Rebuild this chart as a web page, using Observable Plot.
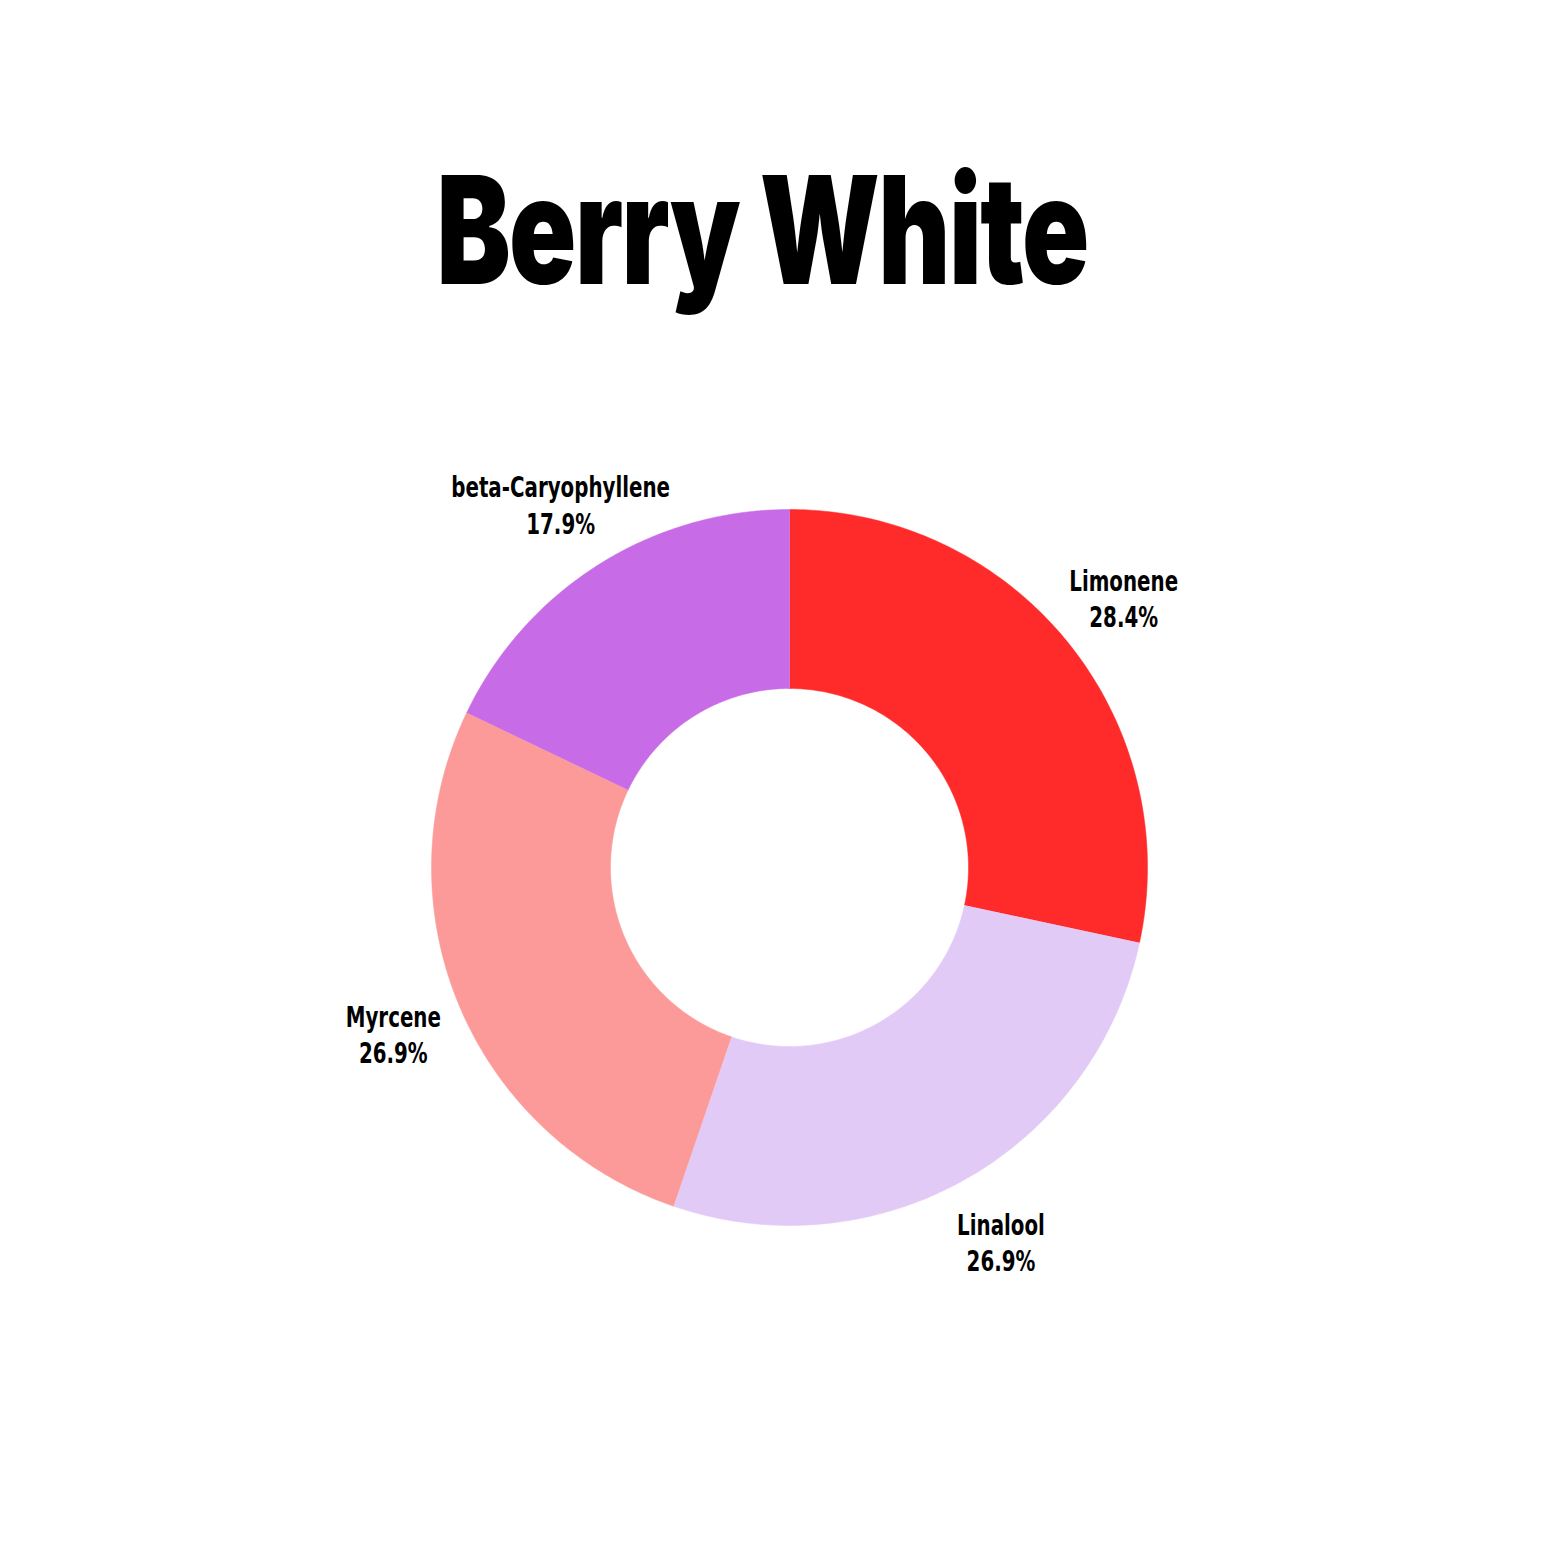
<!DOCTYPE html>
<html>
<head>
<meta charset="utf-8">
<script src="https://cdn.jsdelivr.net/npm/d3@7"></script>
<script src="https://cdn.jsdelivr.net/npm/@observablehq/plot@0.6"></script>
<style>
  html, body { margin: 0; padding: 0; background: #fff; }
  #wrap { width: 1563px; height: 1563px; position: relative; overflow: hidden; }
  #title { position: absolute; top: 140px; left: -19px; width: 1563px; text-align: center;
           font-family: Inter, "DejaVu Sans", sans-serif; font-weight: 900; font-size: 150px;
           line-height: 180px; color: #000; }
  #title span { display: inline-block; transform: scaleX(0.74); transform-origin: center; letter-spacing: -2px; }
  #chart { position: absolute; top: 340px; left: 0; }
  #chart svg text { font-stretch: condensed; }
</style>
</head>
<body>
<div id="wrap">
  <div id="title"><span>Berry White</span></div>
  <div id="chart"></div>
</div>
<script>
const title = "Berry White";
const categories = ["Limonene", "Linalool", "Myrcene", "beta-Caryophyllene"];
const values = [28.4, 26.9, 26.9, 17.9];
const colors = ["#FF2A2A", "#E2CAF7", "#FC9A99", "#C86BE6"];

const innerRatio = 0.5;
const labelRatio = 1.2;

const W = 1563, H = 1223;
const cx = 789, cy = 527, R = 358;

const table = categories.map((name, i) => ({name, value: values[i]}));
const arcs = d3.pie().sort(null).value(d => d.value)(table);

const pts = [];
const N = 120;
for (const a of arcs) {
  for (let k = 0; k <= N; k++) {
    const t = a.startAngle + (a.endAngle - a.startAngle) * k / N;
    pts.push({name: a.data.name, x: Math.sin(t), y: -Math.cos(t)});
  }
  for (let k = N; k >= 0; k--) {
    const t = a.startAngle + (a.endAngle - a.startAngle) * k / N;
    pts.push({name: a.data.name, x: innerRatio * Math.sin(t), y: -innerRatio * Math.cos(t)});
  }
}
const labels = arcs.map(a => {
  const m = (a.startAngle + a.endAngle) / 2;
  return {name: a.data.name, x: labelRatio * Math.sin(m), y: -labelRatio * Math.cos(m),
          text: `${a.data.name}\n${a.data.value.toFixed(1)}%`};
});

const plot = Plot.plot({
  width: W, height: H,
  margin: 0,
  x: {domain: [-cx / R, (W - cx) / R], axis: null},
  y: {domain: [-cy / R, (H - cy) / R], range: [0, H], axis: null},
  color: {domain: categories, range: colors},
  style: {background: "#fff"},
  marks: [
    Plot.line(pts, {x: "x", y: "y", z: "name", fill: "name", stroke: "name", strokeWidth: 0.5, curve: "linear"}),
    Plot.text(labels, {x: "x", y: "y", text: "text", lineHeight: 1.25,
      fontFamily: "'DejaVu Sans Condensed', 'DejaVu Sans', sans-serif",
      fontWeight: "bold", fontSize: 29, fill: "#000"})
  ]
});
// narrow the label glyphs horizontally around their anchor
plot.querySelectorAll("text").forEach(t => {
  const tr = t.getAttribute("transform");
  if (tr) {
    t.setAttribute("transform", tr + " scale(0.76,1)");
  } else {
    const x = +t.getAttribute("x") || 0, y = +t.getAttribute("y") || 0;
    t.removeAttribute("x"); t.removeAttribute("y");
    t.setAttribute("transform", `translate(${x},${y}) scale(0.76,1)`);
  }
});
document.getElementById("chart").appendChild(plot);
</script>
</body>
</html>
